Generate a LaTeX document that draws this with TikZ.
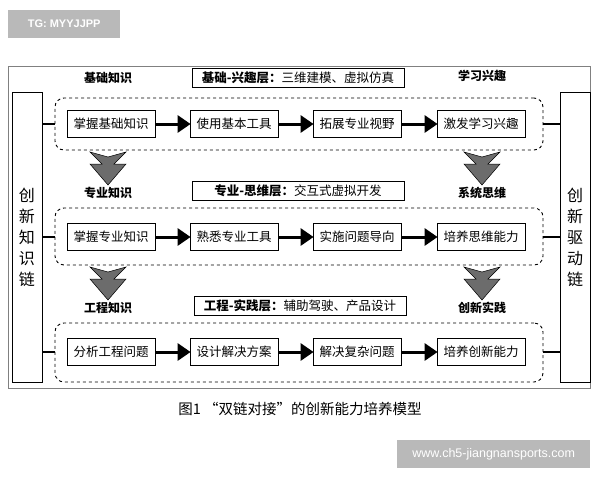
\documentclass[tikz,border=0pt]{standalone}
\usepackage{fontspec}
\setmainfont{Noto Sans CJK SC}
\newfontfamily\lib{Liberation Sans}
\usetikzlibrary{arrows.meta}
\begin{document}
\begin{tikzpicture}[x=1pt,y=-1pt,
  inbox/.style={draw,line width=0.8pt,minimum width=88pt,minimum height=27pt,inner sep=1pt,font=\fontsize{12.5}{14}\selectfont},
  hdr/.style={draw,line width=0.8pt,minimum width=212pt,minimum height=19pt,inner sep=1pt,font=\fontsize{12.5}{14}\selectfont},
  lbl/.style={font=\bfseries\fontsize{12}{14}\selectfont},
  grp/.style={draw,dashed,line width=0.9pt,rounded corners=9pt},
  chain/.style={draw,line width=1pt,minimum width=30pt,minimum height=290pt,align=center,font=\fontsize{16}{21}\selectfont},
  flow/.style={line width=3pt,-{Triangle[length=13pt,width=17pt]},shorten >=-1pt},
  gdown/.style={fill=gray!85!black,draw=black,line width=0.5pt},
  link/.style={line width=1.4pt}]
\useasboundingbox (0,0) rectangle (600,480);
\fill[white] (0,0) rectangle (600,480);
\node[fill=gray!55,text=white,minimum width=112pt,minimum height=28pt,font=\lib\bfseries\fontsize{11}{12}\selectfont,anchor=north west] (tg) at (8,10) {TG: MYYJJPP};
\draw[gray,line width=0.8pt] (8,66) rectangle (590,388);
\node[chain] (L) at (27,237) {创\\新\\知\\识\\链};
\node[chain] (R) at (575,237) {创\\新\\驱\\动\\链};
\foreach \n/\ya/\yb in {g1/98/150,g2/208/265,g3/323/382}{
  \node[grp,minimum width=488pt,minimum height=\yb pt-\ya pt,inner sep=0] (\n) at (299,{(\ya+\yb)/2}) {};
}
\foreach \r/\y/\a/\b/\c/\d in {1/124/掌握基础知识/使用基本工具/拓展专业视野/激发学习兴趣,
  2/237/掌握专业知识/熟悉专业工具/实施问题导向/培养思维能力,
  3/352/分析工程问题/设计解决方案/解决复杂问题/培养创新能力}{
  \node[inbox] (b\r a) at (111,\y) {\a};
  \node[inbox] (b\r b) at (234,\y) {\b};
  \node[inbox] (b\r c) at (357,\y) {\c};
  \node[inbox] (b\r d) at (481,\y) {\d};
  \draw[flow] (b\r a) -- (b\r b);
  \draw[flow] (b\r b) -- (b\r c);
  \draw[flow] (b\r c) -- (b\r d);
  \draw[link] (L.east |- b\r a) -- (g\r.west |- b\r a);
  \draw[link] (g\r.east |- b\r a) -- (R.west |- b\r a);
}
\node[hdr] (h1) at (298,78) {\textbf{基础-兴趣层：}三维建模、虚拟仿真};
\node[hdr] (h2) at (298,191) {\textbf{专业-思维层：}交互式虚拟开发};
\node[hdr] (h3) at (300,306) {\textbf{工程-实践层：}辅助驾驶、产品设计};
\node[lbl] (t1) at (108,78) {基础知识};
\node[lbl] (t2) at (482,76) {学习兴趣};
\node[lbl] (t3) at (108,193) {专业知识};
\node[lbl] (t4) at (482,193) {系统思维};
\node[lbl] (t5) at (108,308) {工程知识};
\node[lbl] (t6) at (482,308) {创新实践};
\foreach \x/\y in {108/152,482/152,108/267,482/267}{
  \draw[gdown] (\x-18,\y) -- (\x-6,\y+12) -- (\x-18,\y+12) -- (\x,\y+33) -- (\x+18,\y+12) -- (\x+6,\y+12) -- (\x+18,\y) -- (\x,\y+5) -- cycle;
}
\node[font=\fontsize{14.5}{16}\selectfont] (cap) at (300,409) {图1 “双链对接”的创新能力培养模型};
\node[fill=gray!55,text=white,minimum width=193pt,minimum height=28pt,font=\lib\fontsize{12.5}{14}\selectfont,anchor=north west] (web) at (397,440) {www.ch5-jiangnansports.com};
\end{tikzpicture}
\end{document}
